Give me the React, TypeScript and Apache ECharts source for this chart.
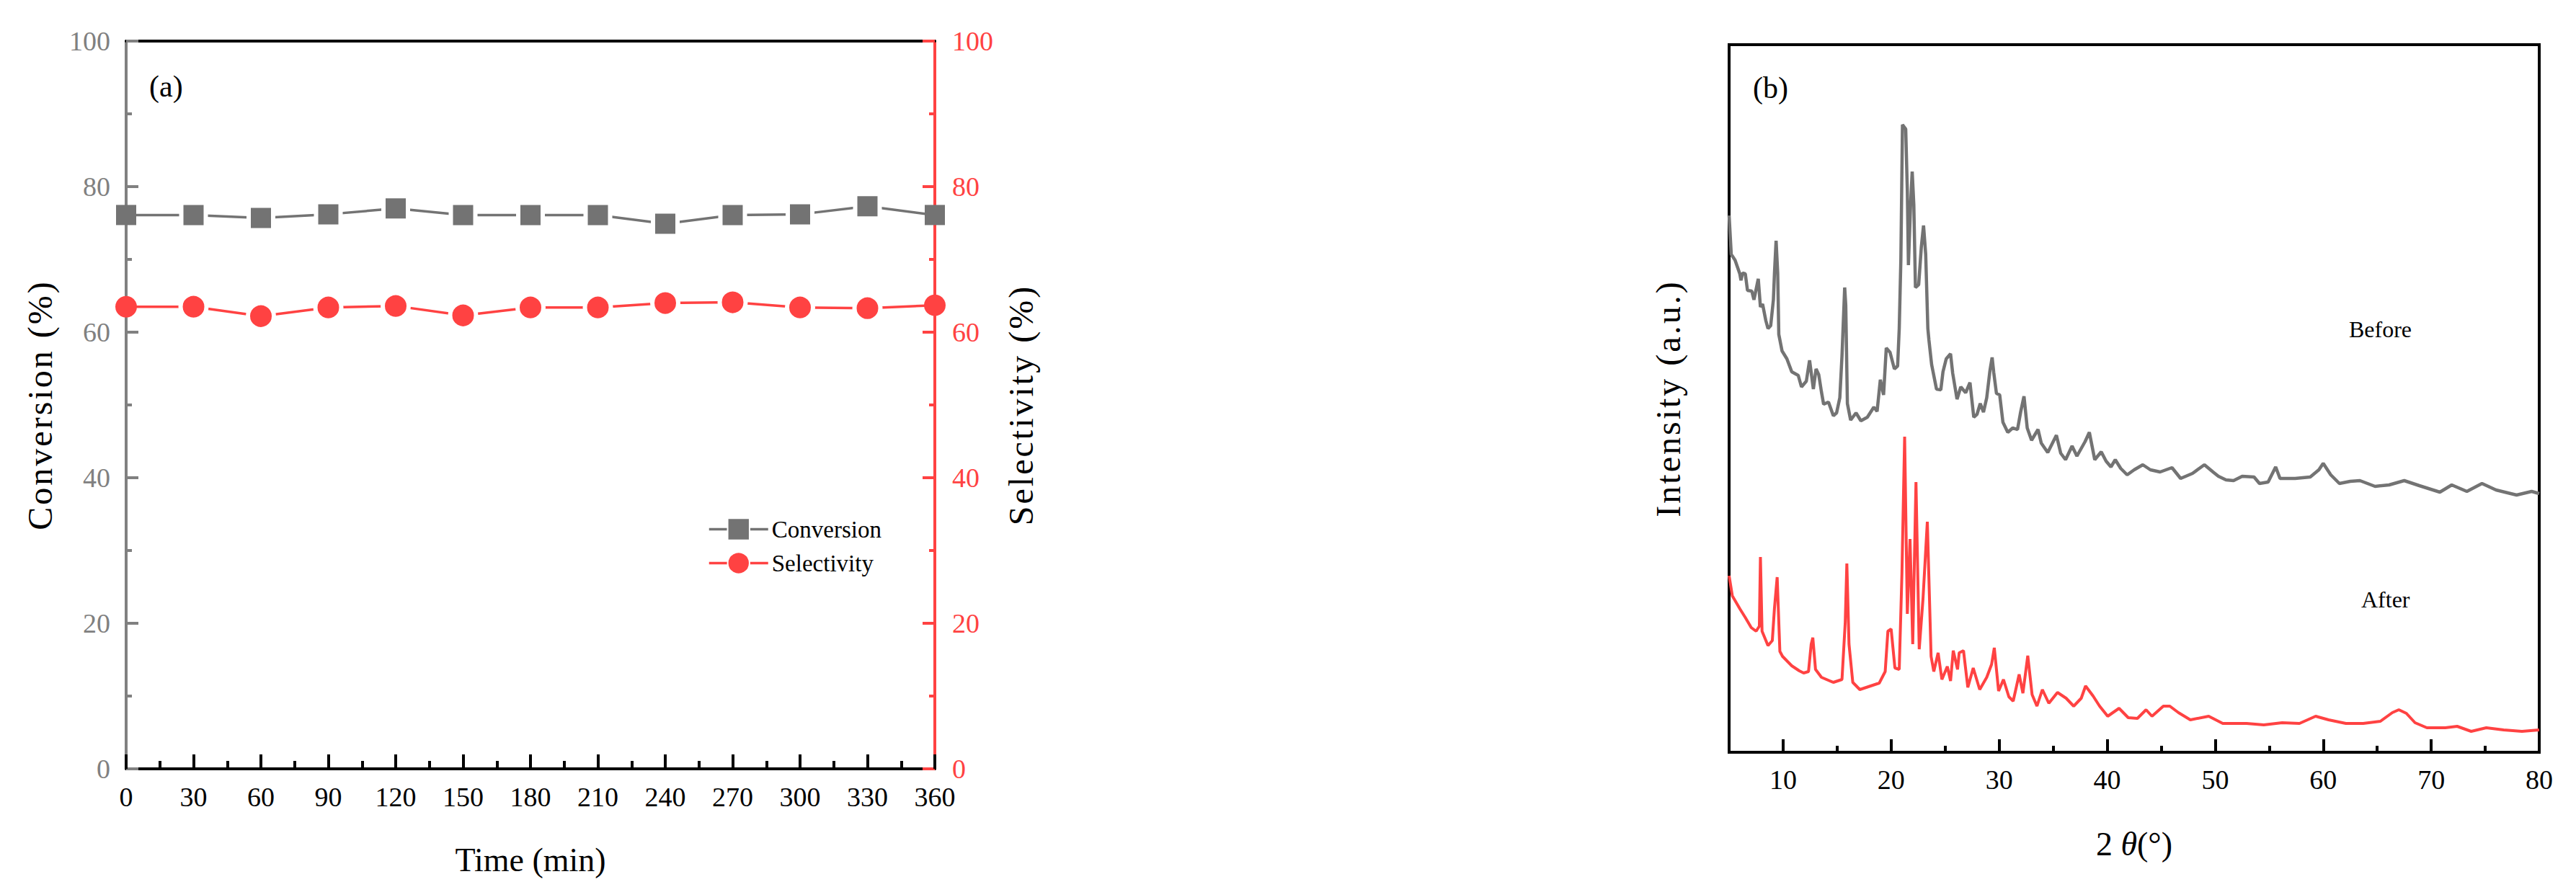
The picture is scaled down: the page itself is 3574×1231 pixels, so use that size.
import React, { useEffect, useRef } from "react";
import * as echarts from "echarts";

// ---------- Panel (a) data ----------
const timeMin = [0, 30, 60, 90, 120, 150, 180, 210, 240, 270, 300, 330, 360];
const conversion = [76.1, 76.1, 75.7, 76.2, 77.0, 76.1, 76.1, 76.1, 74.9, 76.1, 76.2, 77.3, 76.1];
const selectivity = [63.5, 63.5, 62.2, 63.4, 63.6, 62.3, 63.4, 63.4, 64.0, 64.1, 63.4, 63.3, 63.7];

// ---------- Panel (b) data: [2theta, intensity (a.u.)] ----------
const beforePattern: [number, number][] = [
  [5.0, 745], [5.2, 691], [5.55, 683], [5.99, 664], [6.1, 655], [6.25, 665], [6.5, 664], [6.7, 641],
  [7.1, 640], [7.3, 628], [7.7, 657], [7.9, 618], [8.1, 622], [8.4, 599], [8.6, 588], [8.85, 592],
  [9.1, 628], [9.2, 665], [9.35, 710], [9.5, 665], [9.6, 580], [9.9, 557], [10.35, 546], [10.8, 528],
  [11.4, 523], [11.7, 507], [12.15, 515], [12.45, 544], [12.8, 504], [13.05, 532], [13.3, 524],
  [13.55, 500], [13.75, 483], [14.2, 486], [14.65, 467], [14.95, 471], [15.25, 492], [15.45, 550],
  [15.7, 645], [15.8, 620], [15.95, 484], [16.25, 461], [16.75, 471], [17.2, 460], [17.8, 465],
  [18.4, 479], [18.7, 473], [19.0, 517], [19.3, 496], [19.55, 561], [19.9, 555], [20.3, 532],
  [20.6, 536], [20.75, 588], [20.9, 683], [21.05, 871], [21.35, 865], [21.5, 779], [21.6, 676],
  [21.8, 760], [21.95, 806], [22.1, 760], [22.25, 645], [22.55, 649], [22.8, 702], [23.0, 731],
  [23.2, 691], [23.4, 588], [23.5, 572], [23.75, 538], [24.2, 504], [24.6, 503], [24.8, 528],
  [25.1, 546], [25.5, 553], [25.7, 526], [26.1, 490], [26.45, 507], [26.9, 499], [27.3, 513],
  [27.65, 465], [27.95, 469], [28.25, 484], [28.55, 472], [28.85, 492], [29.15, 530], [29.35, 548],
  [29.5, 527], [29.75, 498], [30.05, 496], [30.35, 458], [30.8, 444], [31.25, 450], [31.7, 448],
  [32.0, 473], [32.3, 494], [32.6, 450], [33.0, 433], [33.6, 448], [33.9, 429], [34.5, 416],
  [35.3, 440], [35.7, 415], [36.15, 406], [36.75, 425], [37.2, 411], [37.95, 431], [38.35, 444],
  [38.85, 406], [39.45, 417], [39.9, 404], [40.35, 396], [40.75, 406], [41.25, 394], [41.85, 385],
  [42.5, 392], [43.3, 399], [44.0, 392], [44.9, 389], [46.0, 395], [46.8, 380], [47.9, 387],
  [49.0, 399], [49.8, 389], [50.3, 383], [51.0, 378], [51.7, 377], [52.5, 383], [53.6, 382],
  [54.1, 373], [54.9, 375], [55.6, 396], [56.0, 380], [57.4, 380], [58.8, 382], [59.6, 392],
  [60.0, 401], [60.7, 385], [61.5, 373], [62.5, 376], [63.4, 377], [64.8, 369], [66.1, 371],
  [67.5, 377], [68.9, 370], [70.8, 361], [71.9, 371], [73.3, 362], [74.7, 373], [76.0, 364],
  [77.9, 357], [79.3, 362], [80.0, 359],
];

const afterPattern: [number, number][] = [
  [5.0, 245], [5.3, 217], [6.0, 199], [6.5, 187], [7.05, 173], [7.5, 168], [7.8, 175], [7.9, 271],
  [8.05, 168], [8.6, 148], [9.0, 155], [9.2, 200], [9.45, 243], [9.7, 140], [9.95, 133], [10.8, 120],
  [11.5, 113], [11.9, 110], [12.35, 112], [12.6, 150], [12.75, 159], [13.0, 115], [13.55, 104],
  [14.65, 97], [15.45, 101], [15.75, 180], [15.9, 262], [16.1, 150], [16.45, 97], [17.1, 87],
  [17.9, 91], [18.9, 96], [19.45, 112], [19.7, 168], [20.0, 171], [20.35, 117], [20.75, 115],
  [21.0, 248], [21.25, 438], [21.5, 192], [21.75, 296], [22.0, 150], [22.3, 375], [22.6, 143],
  [22.95, 213], [23.35, 320], [23.7, 133], [23.95, 112], [24.35, 138], [24.7, 101], [25.2, 119],
  [25.5, 99], [25.75, 141], [26.15, 115], [26.3, 138], [26.7, 141], [27.1, 90], [27.6, 117],
  [28.2, 87], [28.85, 104], [29.3, 122], [29.55, 145], [29.95, 85], [30.4, 101], [30.9, 77],
  [31.3, 71], [31.85, 108], [32.2, 82], [32.65, 134], [33.05, 80], [33.5, 64], [34.0, 87],
  [34.6, 68], [35.4, 83], [36.2, 75], [36.9, 64], [37.6, 75], [38.0, 92], [38.7, 78], [39.3, 64],
  [40.05, 50], [41.1, 61], [41.95, 48], [42.8, 47], [43.6, 59], [44.15, 50], [45.2, 64], [45.8, 64],
  [46.6, 55], [47.7, 45], [49.4, 50], [50.7, 40], [52.9, 40], [54.5, 38], [56.2, 41], [57.8, 40],
  [59.3, 50], [60.5, 45], [62.1, 40], [63.7, 40], [65.3, 43], [66.4, 55], [67.0, 59], [67.7, 54],
  [68.5, 41], [69.6, 34], [71.3, 34], [72.4, 36], [73.7, 29], [75.1, 34], [76.7, 31], [78.4, 29],
  [80.0, 31],
];

const thetaMajorTicks = [10, 20, 30, 40, 50, 60, 70, 80];
const thetaMinorTicks = [15, 25, 35, 45, 55, 65, 75];

const FONT = "'Liberation Serif', 'Times New Roman', serif";
const GRAY_AXIS = "#808080";
const GRAY = "#737373";
const RED = "#FF4242";

export default function App() {
  const ref = useRef<HTMLDivElement>(null);

  useEffect(() => {
    document.body.style.margin = "0";
    if (!ref.current) return;
    const chart = echarts.init(ref.current, undefined, { renderer: "svg" });

    const last = timeMin.length - 1;
    const convData = timeMin.map((t, i) =>
      i === 0 || i === last
        ? { value: [t, conversion[i]], symbolSize: 28, itemStyle: { borderWidth: 0 } }
        : { value: [t, conversion[i]] }
    );
    const selData = timeMin.map((t, i) =>
      i === 0 || i === last
        ? { value: [t, selectivity[i]], symbolSize: 30, itemStyle: { borderWidth: 0 } }
        : { value: [t, selectivity[i]] }
    );

    const labelStyle = { fontFamily: FONT, fontSize: 38, color: "#000" };
    const nameStyle = { fontFamily: FONT, fontSize: 46, color: "#000" };
    const yNameStyle = { fontFamily: FONT, fontSize: 48, color: "#000" };

    chart.setOption({
      animation: false,
      backgroundColor: "#fff",
      grid: [
        { left: 175, top: 57, width: 1122, height: 1010, show: false },
        {
          left: 2399, top: 62, width: 1124, height: 982, show: true,
          borderColor: "#000", borderWidth: 4, backgroundColor: "transparent",
        },
      ],
      legend: {
        left: 977, top: 713, orient: "vertical", itemWidth: 82, itemHeight: 38, itemGap: 14,
        textStyle: { fontFamily: FONT, fontSize: 33, color: "#000" },
        lineStyle: { width: 3.5 },
        data: ["Conversion", "Selectivity"],
      },
      xAxis: [
        {
          type: "value", gridIndex: 0, min: 0, max: 360, interval: 30, position: "bottom",
          name: "Time (min)", nameLocation: "middle", nameGap: 103, nameTextStyle: nameStyle,
          axisLine: { show: true, onZero: false, lineStyle: { color: "#000", width: 4 } },
          axisTick: { show: true, inside: true, length: 20, lineStyle: { color: "#000", width: 4 } },
          minorTick: { show: true, splitNumber: 2, length: 11, lineStyle: { color: "#000", width: 4 } },
          axisLabel: { ...labelStyle, margin: 20 },
          splitLine: { show: false },
        },
        {
          type: "value", gridIndex: 0, min: 0, max: 360, position: "top",
          axisLine: { show: true, onZero: false, lineStyle: { color: "#000", width: 4 } },
          axisTick: { show: false }, axisLabel: { show: false }, splitLine: { show: false },
        },
        {
          type: "value", gridIndex: 1, min: 5, max: 80, position: "bottom",
          name: "2 {i|θ}(°)", nameLocation: "middle", nameGap: 104,
          nameTextStyle: {
            ...nameStyle,
            rich: { i: { fontFamily: FONT, fontSize: 46, fontStyle: "italic", color: "#000" } },
          },
          axisLine: { show: false, onZero: false },
          axisTick: {
            show: true, inside: true, length: 18, customValues: thetaMajorTicks,
            lineStyle: { color: "#000", width: 4 },
          },
          axisLabel: { ...labelStyle, margin: 19, customValues: thetaMajorTicks },
          splitLine: { show: false },
        },
        {
          type: "value", gridIndex: 1, min: 5, max: 80, position: "bottom",
          axisLine: { show: false, onZero: false },
          axisTick: {
            show: true, inside: true, length: 9, customValues: thetaMinorTicks,
            lineStyle: { color: "#000", width: 4 },
          },
          axisLabel: { show: false }, splitLine: { show: false },
        },
      ],
      yAxis: [
        {
          type: "value", gridIndex: 0, min: 0, max: 100, interval: 20, position: "left",
          name: "Conversion (%)", nameLocation: "middle", nameRotate: 90, nameGap: 96,
          nameTextStyle: yNameStyle,
          axisLine: { show: true, onZero: false, lineStyle: { color: GRAY_AXIS, width: 4 } },
          axisTick: { show: true, inside: true, length: 17, lineStyle: { color: GRAY_AXIS, width: 4 } },
          minorTick: { show: true, splitNumber: 2, length: 8, lineStyle: { color: GRAY_AXIS, width: 4 } },
          axisLabel: { ...labelStyle, color: GRAY_AXIS, margin: 22 },
          splitLine: { show: false },
        },
        {
          type: "value", gridIndex: 0, min: 0, max: 100, interval: 20, position: "right",
          name: "Selectivity (%)", nameLocation: "middle", nameRotate: 90, nameGap: 95,
          nameTextStyle: yNameStyle,
          axisLine: { show: true, onZero: false, lineStyle: { color: RED, width: 4 } },
          axisTick: { show: true, inside: true, length: 17, lineStyle: { color: RED, width: 4 } },
          minorTick: { show: true, splitNumber: 2, length: 8, lineStyle: { color: RED, width: 4 } },
          axisLabel: { ...labelStyle, color: RED, margin: 24 },
          splitLine: { show: false },
        },
        {
          type: "value", gridIndex: 1, min: 0, max: 982, position: "left",
          name: "Intensity (a.u.)", nameLocation: "middle", nameRotate: 90, nameGap: 61,
          nameTextStyle: yNameStyle,
          axisLine: { show: false, onZero: false }, axisTick: { show: false },
          axisLabel: { show: false }, splitLine: { show: false },
        },
      ],
      graphic: [
        { type: "text", x: 207, y: 120, style: { text: "(a)", font: `42px ${FONT}`, fill: "#000", verticalAlign: "middle" } },
        { type: "text", x: 2432, y: 122, style: { text: "(b)", font: `42px ${FONT}`, fill: "#000", verticalAlign: "middle" } },
        { type: "text", x: 3259, y: 457, style: { text: "Before", font: `32px ${FONT}`, fill: "#000", verticalAlign: "middle" } },
        { type: "text", x: 3276, y: 832, style: { text: "After", font: `32px ${FONT}`, fill: "#000", verticalAlign: "middle" } },
      ],
      series: [
        {
          name: "Conversion", type: "line", xAxisIndex: 0, yAxisIndex: 0, clip: false,
          symbol: "rect", symbolSize: 34, data: convData,
          itemStyle: { color: GRAY, borderColor: "#fff", borderWidth: 6 },
          lineStyle: { color: GRAY, width: 3.5 }, z: 3,
        },
        {
          name: "Selectivity", type: "line", xAxisIndex: 0, yAxisIndex: 1, clip: false,
          symbol: "circle", symbolSize: 36, data: selData,
          itemStyle: { color: RED, borderColor: "#fff", borderWidth: 6 },
          lineStyle: { color: RED, width: 3.5 }, z: 3,
        },
        {
          name: "Before", type: "line", xAxisIndex: 2, yAxisIndex: 2, symbol: "none",
          data: beforePattern, lineStyle: { color: GRAY, width: 4.5 }, silent: true,
        },
        {
          name: "After", type: "line", xAxisIndex: 2, yAxisIndex: 2, symbol: "none",
          data: afterPattern, lineStyle: { color: RED, width: 4 }, silent: true,
        },
      ],
    });

    return () => chart.dispose();
  }, []);

  return (
    <>
      <style>{`#xrd-chart text[transform^="matrix(0,-1,1,0"]{letter-spacing:3px}`}</style>
      <div id="xrd-chart" ref={ref} style={{ width: 3574, height: 1231 }} />
    </>
  );
}
